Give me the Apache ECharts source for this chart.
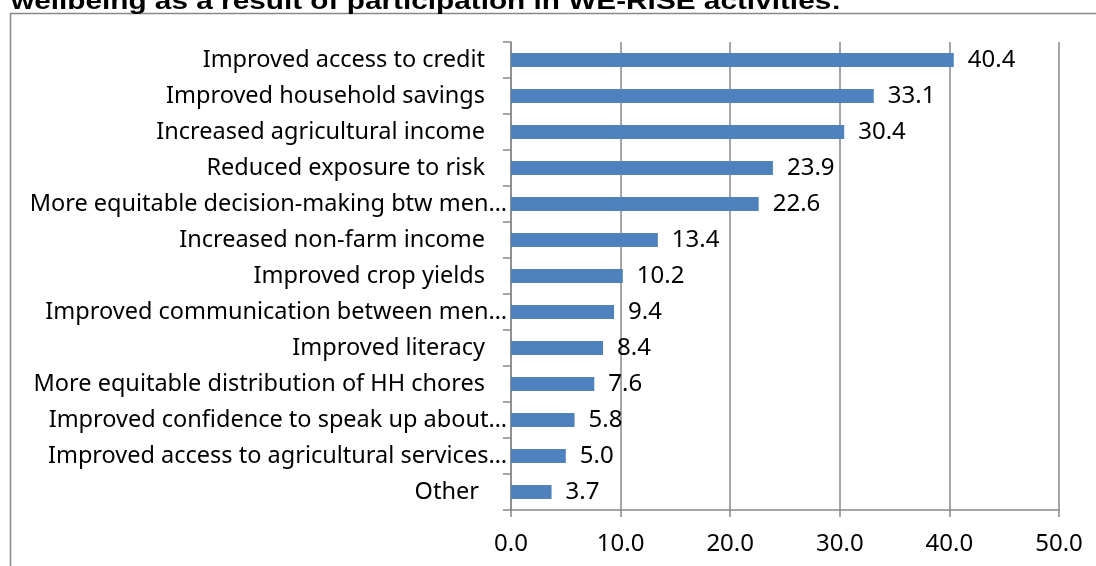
<!DOCTYPE html>
<html>
<head>
<meta charset="utf-8">
<script src="https://cdn.jsdelivr.net/npm/echarts@6/dist/echarts.min.js"></script>
<style>
html,body{margin:0;padding:0;background:#fff;}
#chart{width:1096px;height:566px;}
</style>
</head>
<body>
<div id="chart"></div>
<script>
const titleText = "wellbeing as a result of participation in WE-RISE activities:";
const categories = [
  "Improved access to credit",
  "Improved household savings",
  "Increased agricultural income",
  "Reduced exposure to risk",
  "More equitable decision-making btw men…",
  "Increased non-farm income",
  "Improved crop yields",
  "Improved communication between men…",
  "Improved literacy",
  "More equitable distribution of HH chores",
  "Improved confidence to speak up about…",
  "Improved access to agricultural services…",
  "Other "
];
const values = [40.4, 33.1, 30.4, 23.9, 22.6, 13.4, 10.2, 9.4, 8.4, 7.6, 5.8, 5.0, 3.7];
const xTicks = { min: 0, max: 50, interval: 10 };

const FONT = "'Noto Sans', sans-serif";
const GRAY = '#888888';
const FS = 23.5;

const chart = echarts.init(document.getElementById('chart'), null, { renderer: 'canvas' });
chart.setOption({
  animation: false,
  backgroundColor: '#ffffff',
  graphic: [
    {
      type: 'rect', z: -1,
      shape: { x: 10.5, y: 13.5, width: 1200, height: 700 },
      style: { fill: 'none', stroke: GRAY, lineWidth: 1.5 }
    },
    {
      type: 'text',
      x: 11, y: 2, scaleX: 1.24,
      style: {
        text: titleText,
        fill: '#000',
        font: "bold 24px 'Liberation Sans', Arial, sans-serif",
        verticalAlign: 'middle',
        align: 'left'
      }
    }
  ],
  grid: { left: 511, right: 37, top: 42, bottom: 56, containLabel: false },
  xAxis: {
    type: 'value',
    min: xTicks.min, max: xTicks.max, interval: xTicks.interval,
    axisLine: { show: true, lineStyle: { color: GRAY, width: 1.5 } },
    axisTick: { show: true, length: 7, lineStyle: { color: GRAY, width: 1.5 } },
    splitLine: { show: true, lineStyle: { color: GRAY, width: 1.5 } },
    axisLabel: {
      margin: 22,
      color: '#000',
      fontFamily: FONT,
      fontSize: 24,
      formatter: v => v.toFixed(1)
    }
  },
  yAxis: {
    type: 'category',
    inverse: true,
    data: categories,
    axisLine: { show: true, lineStyle: { color: GRAY, width: 1.5 } },
    axisTick: { show: true, length: 8, lineStyle: { color: GRAY, width: 1.5 } },
    axisLabel: {
      margin: 4,
      color: '#000',
      fontFamily: FONT,
      fontSize: FS,
      interval: 0,
      formatter: v => (v.endsWith('…') ? '{t|' + v + '}' : '{n|' + v + '}'),
      rich: {
        t: { fontFamily: FONT, fontSize: FS, color: '#000' },
        n: { fontFamily: FONT, fontSize: FS, color: '#000', padding: [0, 22, 0, 0] }
      }
    }
  },
  series: [{
    type: 'bar',
    data: values,
    barWidth: 14,
    itemStyle: { color: '#4F81BD' },
    label: {
      show: true,
      position: 'right',
      distance: 14,
      color: '#000',
      fontFamily: FONT,
      fontSize: 24,
      formatter: p => p.value.toFixed(1)
    }
  }]
});
</script>
</body>
</html>
